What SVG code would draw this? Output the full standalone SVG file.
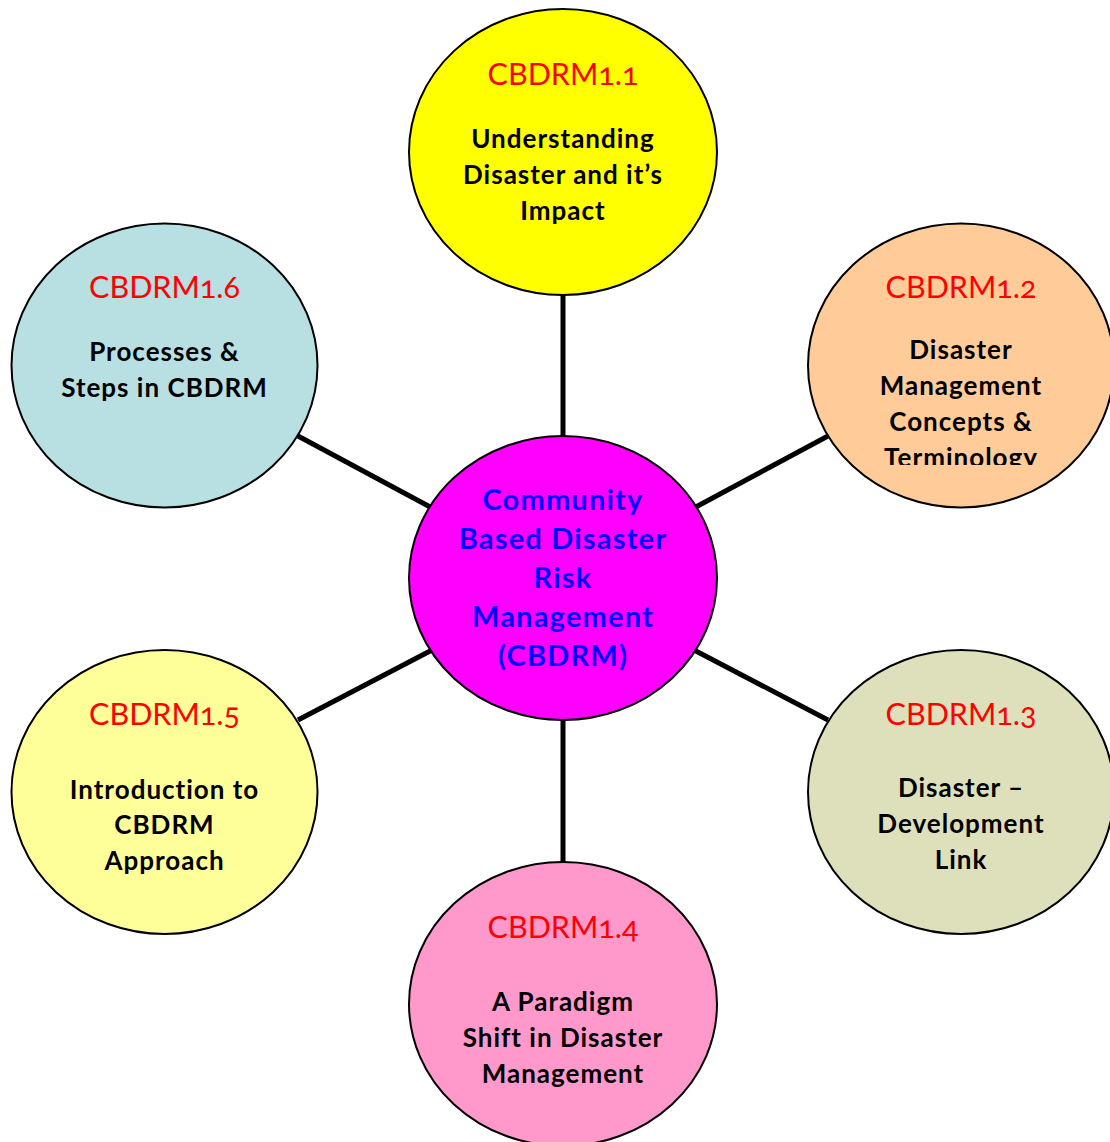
<svg xmlns="http://www.w3.org/2000/svg" width="1110" height="1142" viewBox="0 0 1110 1142">
<style>
.node{stroke:#000;stroke-width:2}
.code{font-family:Lato,"Open Sans",sans-serif;font-size:30.5px;fill:#FF0000;text-anchor:middle;font-variant-numeric:oldstyle-nums;font-feature-settings:"onum" 1}
.lbl{font-family:Lato,"Open Sans",sans-serif;font-size:26px;font-weight:bold;fill:#000;text-anchor:middle;letter-spacing:1px}
.ctr{font-family:Lato,"Open Sans",sans-serif;font-size:29px;font-weight:bold;fill:#0000FF;text-anchor:middle;letter-spacing:1.2px}
.conn line{stroke:#000;stroke-width:5}
</style>
<defs>
<clipPath id="clip12"><rect x="800" y="220" width="320" height="245"/></clipPath>
</defs>
<rect width="1110" height="1142" fill="#fff"/>
<g class="conn" id="connectors">
<line x1="563" y1="294" x2="563" y2="438"/>
<line x1="563" y1="718" x2="563" y2="864"/>
<line x1="298" y1="436" x2="432" y2="508"/>
<line x1="694" y1="508" x2="828" y2="436"/>
<line x1="298" y1="720" x2="432" y2="650"/>
<line x1="694" y1="650" x2="828" y2="720"/>
</g>
<g id="n11">
<ellipse class="node" cx="563" cy="152" rx="154" ry="143" fill="#FFFF00"/>
<text class="code" x="563" y="85">CBDRM1.1</text>
<text class="lbl" x="563" y="148">Understanding</text>
<text class="lbl" x="563" y="184">Disaster and it’s</text>
<text class="lbl" x="563" y="220">Impact</text>
</g>
<g id="n12">
<ellipse class="node" cx="961" cy="365.5" rx="153" ry="142" fill="#FFCC99"/>
<text class="code" x="961" y="298">CBDRM1.2</text>
<text class="lbl" x="961" y="359">Disaster</text>
<text class="lbl" x="961" y="395">Management</text>
<text class="lbl" x="961" y="431">Concepts &amp;</text>
<text class="lbl" x="961" y="467" clip-path="url(#clip12)">Terminology</text>
</g>
<g id="n13">
<ellipse class="node" cx="961" cy="792" rx="153" ry="142" fill="#DDE0BB"/>
<text class="code" x="961" y="725">CBDRM1.3</text>
<text class="lbl" x="961" y="797">Disaster –</text>
<text class="lbl" x="961" y="833">Development</text>
<text class="lbl" x="961" y="869">Link</text>
</g>
<g id="n14">
<ellipse class="node" cx="563" cy="1004" rx="154" ry="142" fill="#FF99CC"/>
<text class="code" x="563" y="938">CBDRM1.4</text>
<text class="lbl" x="563" y="1011">A Paradigm</text>
<text class="lbl" x="563" y="1047">Shift in Disaster</text>
<text class="lbl" x="563" y="1083">Management</text>
</g>
<g id="n15">
<ellipse class="node" cx="164.5" cy="792" rx="153" ry="142" fill="#FFFF99"/>
<text class="code" x="164.5" y="725">CBDRM1.5</text>
<text class="lbl" x="164.5" y="799">Introduction to</text>
<text class="lbl" x="164.5" y="834">CBDRM</text>
<text class="lbl" x="164.5" y="870">Approach</text>
</g>
<g id="n16">
<ellipse class="node" cx="164.5" cy="365.5" rx="153" ry="142" fill="#B8DFE2"/>
<text class="code" x="164.5" y="298">CBDRM1.6</text>
<text class="lbl" x="164.5" y="361">Processes &amp;</text>
<text class="lbl" x="164.5" y="397">Steps in CBDRM</text>
</g>
<g id="center">
<ellipse class="node" cx="563" cy="578" rx="154" ry="142" fill="#FF00FF"/>
<text class="ctr" x="563" y="510">Community</text>
<text class="ctr" x="563" y="549">Based Disaster</text>
<text class="ctr" x="563" y="588">Risk</text>
<text class="ctr" x="563" y="627">Management</text>
<text class="ctr" x="563" y="666">(CBDRM)</text>
</g>
</svg>
